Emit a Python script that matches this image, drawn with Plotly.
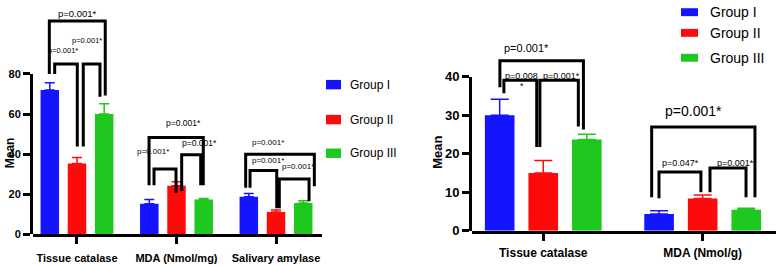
import plotly.graph_objects as go

W, H = 778, 265

# ---------------- data ----------------
groups = ["Group I", "Group II", "Group III"]
colors = ["#1414FF", "#FF0A0A", "#1EC81E"]

left_categories = ["Tissue catalase", "MDA (Nmol/mg)", "Salivary amylase"]
left_g1_mean = [72.0, 15.3, 18.7]
left_g1_sd = [3.6, 2.1, 1.7]
left_g2_mean = [35.3, 24.2, 11.1]
left_g2_sd = [3.0, 2.0, 1.0]
left_g3_mean = [60.0, 17.4, 15.7]
left_g3_sd = [5.1, 0.5, 1.1]
left_yticks = [0, 20, 40, 60, 80]

right_categories = ["Tissue catalase", "MDA (Nmol/g)"]
right_g1_mean = [30.0, 4.4]
right_g1_sd = [4.2, 0.8]
right_g2_mean = [15.0, 8.4]
right_g2_sd = [3.3, 0.9]
right_g3_mean = [23.7, 5.5]
right_g3_sd = [1.4, 0.4]
right_yticks = [0, 10, 20, 30, 40]

# significance brackets: (x_left, y_left_bottom, x_right, y_right_bottom, y_top)
left_brackets = [
    (-0.278, 80.0, 0.284, 69.3, 106.4),
    (-0.224, 80.0, 0.003, 43.8, 85.0),
    (0.063, 43.8, 0.231, 68.6, 85.0),
    (0.724, 24.5, 1.269, 24.5, 48.3),
    (0.774, 24.5, 0.995, 20.6, 32.6),
    (1.052, 21.6, 1.243, 24.5, 39.7),
    (1.695, 23.2, 2.385, 24.0, 40.0),
    (1.739, 23.2, 2.007, 13.0, 31.9),
    (2.033, 13.0, 2.332, 16.5, 27.6),
]
left_labels = [
    ("p=0.001*", 0.005, 110.3, 9.5),
    ("p=0.001*", -0.14, 91.5, 7.5),
    ("p=0.001*", 0.105, 96.9, 7.5),
    ("p=0.001*", 1.07, 55.4, 8.5),
    ("p=0.001*", 0.767, 41.3, 8),
    ("p=0.001*", 1.236, 45.5, 8.5),
    ("p=0.001*", 1.923, 45.6, 8),
    ("p=0.001*", 1.923, 37.0, 8),
    ("p=0.001*", 2.224, 33.7, 8),
]
right_brackets = [
    (-0.272, 37.3, 0.252, 26.3, 44.2),
    (-0.247, 35.7, -0.041, 21.8, 39.1),
    (-0.021, 21.8, 0.220, 27.1, 39.1),
    (0.680, 8.7, 1.328, 8.7, 27.0),
    (0.726, 8.5, 0.989, 10.0, 15.3),
    (1.046, 10.0, 1.272, 8.7, 16.3),
]
right_labels = [
    ("p=0.001*", -0.104, 47.5, 11),
    ("p=0.008", -0.135, 40.3, 9),
    ("*", -0.135, 37.6, 9),
    ("p=0.001*", 0.115, 40.3, 9),
    ("p=0.001*", 0.941, 31.2, 14),
    ("p=0.047*", 0.858, 17.5, 9),
    ("p=0.001*", 1.203, 17.7, 9),
]

# ---------------- geometry (pixels) ----------------
L_X0, L_X1 = 33, 322
L_Y0, L_YTOP = 241, 71          # pixel of value 0 and value 80
L_XRANGE = [-0.442, 2.462]
R_X0, R_X1 = 472, 776
R_Y0, R_YTOP = 237.3, 74        # pixel of value 0 and value 40
R_XRANGE = [-0.447, 1.46]

def fy(py):
    return (H - py) / H

left_full = L_Y0 * left_yticks[-1] / (L_Y0 - L_YTOP)
right_full = R_Y0 * right_yticks[-1] / (R_Y0 - R_YTOP)

fig = go.Figure()

left_means = [left_g1_mean, left_g2_mean, left_g3_mean]
left_sds = [left_g1_sd, left_g2_sd, left_g3_sd]
right_means = [right_g1_mean, right_g2_mean, right_g3_mean]
right_sds = [right_g1_sd, right_g2_sd, right_g3_sd]

for i, g in enumerate(groups):
    fig.add_trace(go.Bar(
        x=list(range(len(left_categories))), y=left_means[i], name=g,
        marker=dict(color=colors[i], line=dict(width=0)),
        error_y=dict(type="data", array=left_sds[i], arrayminus=[0] * len(left_sds[i]),
                     symmetric=False, color=colors[i], thickness=1.5, width=5),
        xaxis="x", yaxis="y", showlegend=False, hoverinfo="skip"))
for i, g in enumerate(groups):
    fig.add_trace(go.Bar(
        x=list(range(len(right_categories))), y=right_means[i], name=g,
        marker=dict(color=colors[i], line=dict(width=0)),
        error_y=dict(type="data", array=right_sds[i], arrayminus=[0] * len(right_sds[i]),
                     symmetric=False, color=colors[i], thickness=1.5, width=9),
        xaxis="x2", yaxis="y2", showlegend=False, hoverinfo="skip"))

# dummy traces so that the visible y axes have subplots
fig.add_trace(go.Scatter(x=[None], y=[None], xaxis="x", yaxis="y3", showlegend=False))
fig.add_trace(go.Scatter(x=[None], y=[None], xaxis="x2", yaxis="y4", showlegend=False))

FONT = "Liberation Sans, Arial, sans-serif"
left_bold = dict(family=FONT, size=11, color="black", weight="bold")
right_bold = dict(family=FONT, size=12, color="black", weight="bold")

axis_common = dict(showgrid=False, zeroline=False, showline=True, linewidth=3, linecolor="black",
                   ticks="outside", ticklen=7, tickwidth=3, tickcolor="black")

fig.update_layout(
    width=W, height=H, margin=dict(l=0, r=0, t=0, b=0),
    paper_bgcolor="white", plot_bgcolor="rgba(0,0,0,0)",
    barmode="group", bargap=0.18, bargroupgap=0.32,
    xaxis=dict(domain=[L_X0 / W, L_X1 / W], range=L_XRANGE, anchor="y",
               tickvals=list(range(len(left_categories))), ticktext=left_categories,
               tickfont=left_bold, ticklabelstandoff=4, **axis_common),
    yaxis=dict(domain=[fy(L_Y0), 1], range=[0, left_full], visible=False, anchor="x"),
    yaxis3=dict(domain=[fy(L_Y0), fy(L_YTOP)], range=[0, left_yticks[-1]], anchor="x",
                tickvals=left_yticks, tickfont=left_bold, **axis_common),
    xaxis2=dict(domain=[R_X0 / W, R_X1 / W], range=R_XRANGE, anchor="y2",
                tickvals=list(range(len(right_categories))), ticktext=right_categories,
                tickfont=right_bold, ticklabelstandoff=2, **axis_common),
    yaxis2=dict(domain=[fy(R_Y0), 1], range=[0, right_full], visible=False, anchor="x2"),
    yaxis4=dict(domain=[fy(R_Y0), fy(R_YTOP)], range=[0, right_yticks[-1]], anchor="x2",
                tickvals=right_yticks, tickfont=dict(right_bold, size=13), **axis_common),
)

shapes = []
annotations = []

def add_brackets(brackets, labels, xref, yref, width):
    for xl, ylb, xr, yrb, top in brackets:
        shapes.append(dict(type="path", xref=xref, yref=yref,
                           path=f"M {xl},{ylb} L {xl},{top} L {xr},{top} L {xr},{yrb}",
                           line=dict(color="black", width=width)))
    for txt, x, y, size in labels:
        annotations.append(dict(text=txt, x=x, y=y, xref=xref, yref=yref, showarrow=False,
                                xanchor="center", yanchor="middle",
                                font=dict(family=FONT, size=size, color="black")))

add_brackets(left_brackets, left_labels, "x", "y", 3)
add_brackets(right_brackets, right_labels, "x2", "y2", 3)

# legends
left_leg_rows = [82.3, 119.3, 155]
right_leg_rows = [5.5, 27.4, 53.8]
for i, g in enumerate(groups):
    cy = left_leg_rows[i]
    shapes.append(dict(type="rect", xref="paper", yref="paper",
                       x0=326 / W, x1=341 / W, y0=fy(cy + 5), y1=fy(cy - 5),
                       fillcolor=colors[i], line=dict(width=0)))
    annotations.append(dict(text=g, x=348 / W, y=fy(cy), xref="paper", yref="paper",
                            showarrow=False, xanchor="left", yanchor="middle",
                            font=dict(family=FONT, size=12, color="black")))
    cy = right_leg_rows[i]
    shapes.append(dict(type="rect", xref="paper", yref="paper",
                       x0=681 / W, x1=698 / W, y0=fy(cy + 4.2), y1=fy(cy - 4.2),
                       fillcolor=colors[i], line=dict(width=0)))
    annotations.append(dict(text=g, x=708 / W, y=fy(cy), xref="paper", yref="paper",
                            showarrow=False, xanchor="left", yanchor="middle",
                            font=dict(family=FONT, size=14, color="black")))

# y axis titles
annotations.append(dict(text="Mean", x=1 / W, y=fy(155), xref="paper", yref="paper",
                        showarrow=False, textangle=-90, xanchor="left", yanchor="middle",
                        font=dict(family=FONT, size=12, color="black", weight="bold")))
annotations.append(dict(text="Mean", x=438 / W, y=fy(154.5), xref="paper", yref="paper",
                        showarrow=False, textangle=-90, xanchor="center", yanchor="middle",
                        font=dict(family=FONT, size=13, color="black", weight="bold")))

fig.update_layout(shapes=shapes, annotations=annotations)
fig.write_html("out.html")
